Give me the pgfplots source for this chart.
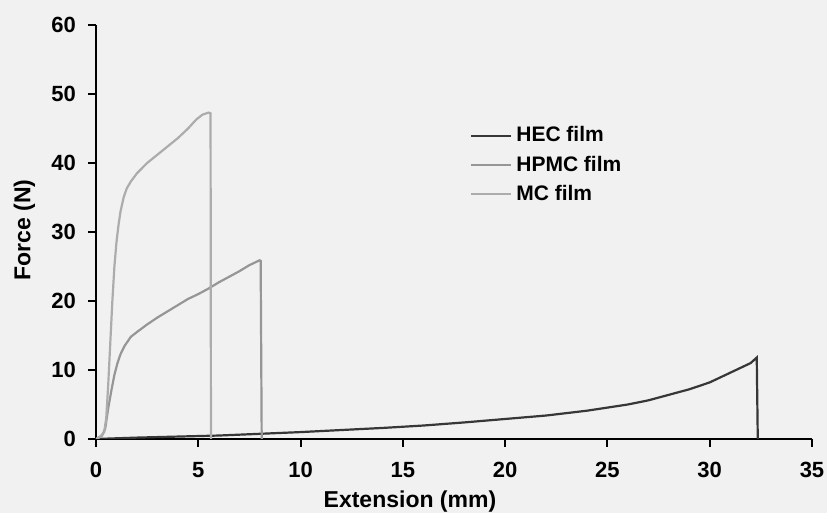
\documentclass[border=0pt]{standalone}
\usepackage{fontspec}
\setmainfont{Liberation Sans}
\usepackage{pgfplots}
\pgfplotsset{compat=1.18}

\definecolor{bgc}{RGB}{241,241,241}
\definecolor{hec}{RGB}{55,55,55}
\definecolor{hpmc}{RGB}{150,150,150}
\definecolor{mcf}{RGB}{172,172,172}

\begin{document}
\begin{tikzpicture}
  \fill[bgc] (-48pt,-37pt) rectangle (365.5pt,219.5pt);
  \begin{axis}[
    at={(0,0)}, anchor=south west,
    scale only axis,
    width=358pt, height=207pt,
    xmin=0, xmax=35, ymin=0, ymax=60,
    xtick={0,5,...,35}, ytick={0,10,...,60},
    axis x line*=bottom, axis y line*=left,
    axis line style={line width=1.3pt, black, -},
    tick style={line width=1pt, black},
    tick align=outside, major tick length=4pt,
    tick label style={font=\fontsize{11}{13}\selectfont\bfseries},
    xticklabel style={yshift=-4pt},
    yticklabel style={xshift=-2.5pt},
    /pgf/number format/assume math mode=true,
    xlabel={Extension (mm)}, ylabel={Force (N)},
    label style={font=\fontsize{11.5}{13}\selectfont\bfseries},
    xlabel style={at={(axis description cs:0.4385,-0.150)}, anchor=center},
    ylabel style={at={(axis description cs:-0.100,0.505)}, anchor=center},
    legend style={draw=none, fill=none, at={(0.522,0.765)}, anchor=north west,
      font=\fontsize{10.5}{12}\selectfont\bfseries, row sep=1.5pt, inner sep=0pt},
    legend cell align=left,
    legend image code/.code={\draw[#1] (0pt,0pt) -- (20pt,0pt);},
  ]
    \addplot[hec, line width=1.1pt] coordinates {
      (0,0) (1,0.1) (2,0.2) (4,0.35) (6,0.5) (8,0.75) (10,1.0) (12,1.3)
      (14,1.6) (16,1.95) (18,2.4) (20,2.9) (22,3.4) (24,4.1) (26,5.0)
      (27,5.6) (28,6.4) (29,7.2) (30,8.2) (31,9.6) (32,11.0) (32.3,11.8)
      (32.35,0)
    };
    \addlegendentry{HEC film}
    \addplot[hpmc, line width=1.1pt] coordinates {
      (0,0) (0.3,0.5) (0.45,1.5) (0.6,4.5) (0.75,7) (0.9,9.3) (1.05,11)
      (1.2,12.3) (1.4,13.5) (1.7,14.8) (2,15.5) (2.5,16.6) (3,17.6)
      (3.5,18.5) (4,19.4) (4.5,20.3) (5,21) (5.5,21.8) (6,22.7) (6.5,23.5)
      (7,24.3) (7.5,25.2) (8,25.9) (8.05,25.8) (8.1,0)
    };
    \addlegendentry{HPMC film}
    \addplot[mcf, line width=1.1pt] coordinates {
      (0,0) (0.2,0.3) (0.4,1.0) (0.5,3) (0.6,8) (0.7,14) (0.8,20) (0.9,25)
      (1.0,28.5) (1.1,31) (1.2,33) (1.35,35) (1.5,36.3) (1.7,37.3) (2,38.5)
      (2.5,40) (3,41.2) (3.5,42.4) (4,43.6) (4.5,45) (4.9,46.3) (5.2,47)
      (5.5,47.3) (5.6,47.2) (5.62,0)
    };
    \addlegendentry{MC film}
  \end{axis}
  \pgfresetboundingbox
  \path[use as bounding box] (-48pt,-37pt) rectangle (365.5pt,219.5pt);
\end{tikzpicture}
\end{document}
